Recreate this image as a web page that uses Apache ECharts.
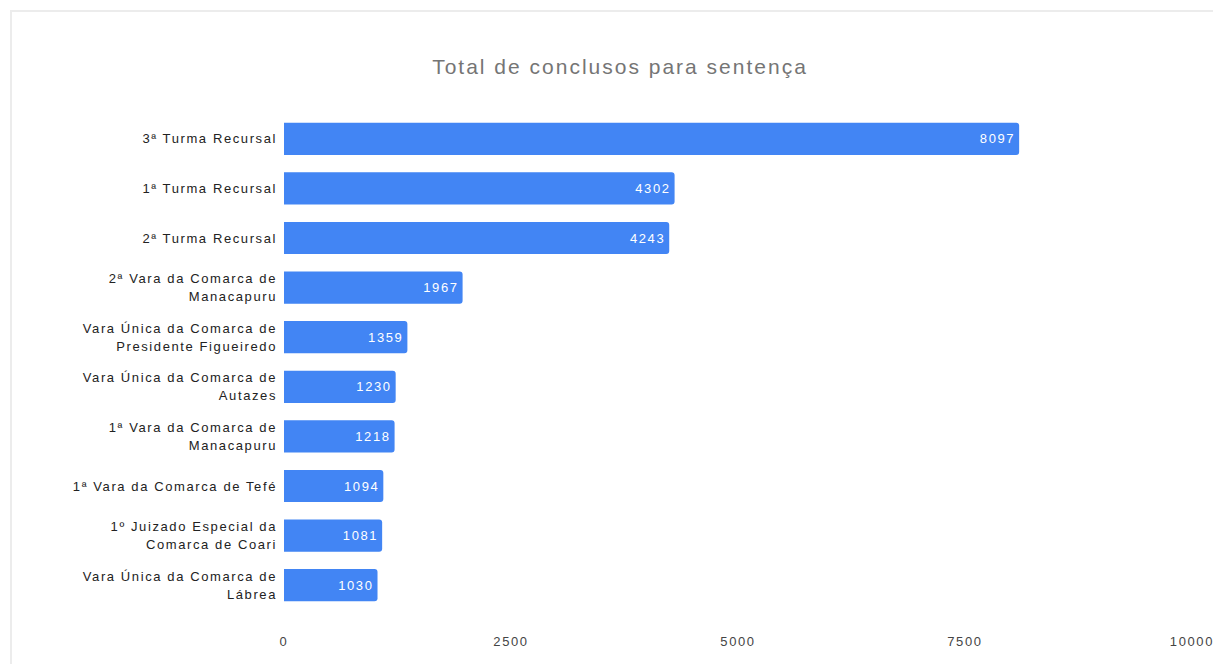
<!DOCTYPE html>
<html><head><meta charset="utf-8">
<script src="https://cdn.jsdelivr.net/npm/echarts@6/dist/echarts.min.js"></script>
<style>
html,body{margin:0;padding:0;background:#fff;overflow:hidden}
#frame{position:absolute;left:10px;top:10px;width:1300px;height:800px;border-top:2px solid #ececec;border-left:2px solid #ececec;box-sizing:border-box}
#c{position:absolute;left:0;top:0;width:1213px;height:664px}
#c svg text{letter-spacing:1.6px}
#c svg text[style*="21px"]{letter-spacing:2px}
</style></head>
<body>
<div id="frame"></div>
<div id="c"></div>
<script>
const categories = [
  "3ª Turma Recursal",
  "1ª Turma Recursal",
  "2ª Turma Recursal",
  "2ª Vara da Comarca de\nManacapuru",
  "Vara Única da Comarca de\nPresidente Figueiredo",
  "Vara Única da Comarca de\nAutazes",
  "1ª Vara da Comarca de\nManacapuru",
  "1ª Vara da Comarca de Tefé",
  "1º Juizado Especial da\nComarca de Coari",
  "Vara Única da Comarca de\nLábrea"
];
const values = [8097, 4302, 4243, 1967, 1359, 1230, 1218, 1094, 1081, 1030];
const xTicks = [0, 2500, 5000, 7500, 10000];

const FONT = 'Liberation Sans, Arial, sans-serif';
const chart = echarts.init(document.getElementById('c'), null, {renderer: 'svg'});
chart.setOption({
  backgroundColor: 'transparent',
  title: {
    text: 'Total de conclusos para sentença',
    left: 615, top: 51, textAlign: 'center',
    textStyle: {color: '#757575', fontSize: 21, fontWeight: 'normal', fontFamily: FONT}
  },
  grid: {left: 284, right: 21, top: 114, bottom: 54, containLabel: false},
  xAxis: {
    type: 'value', min: xTicks[0], max: xTicks[xTicks.length-1], interval: 2500,
    axisLine: {show: false}, axisTick: {show: false}, splitLine: {show: false},
    axisLabel: {color: '#444', fontSize: 13, margin: 25, fontFamily: FONT, formatter: v => String(v)}
  },
  yAxis: {
    type: 'category', data: categories, inverse: true,
    axisLine: {show: false}, axisTick: {show: false},
    axisLabel: {color: '#222', fontSize: 13, margin: 7, lineHeight: 18, align: 'right', fontFamily: FONT}
  },
  series: [{
    type: 'bar', data: values, barCategoryGap: '35%',
    itemStyle: {color: '#4285f4', borderRadius: [0, 3, 3, 0]},
    label: {show: true, position: 'insideRight', distance: 4, color: '#fff', fontSize: 13, fontFamily: FONT},
    animation: false
  }],
  animation: false
});
</script>
</body></html>
